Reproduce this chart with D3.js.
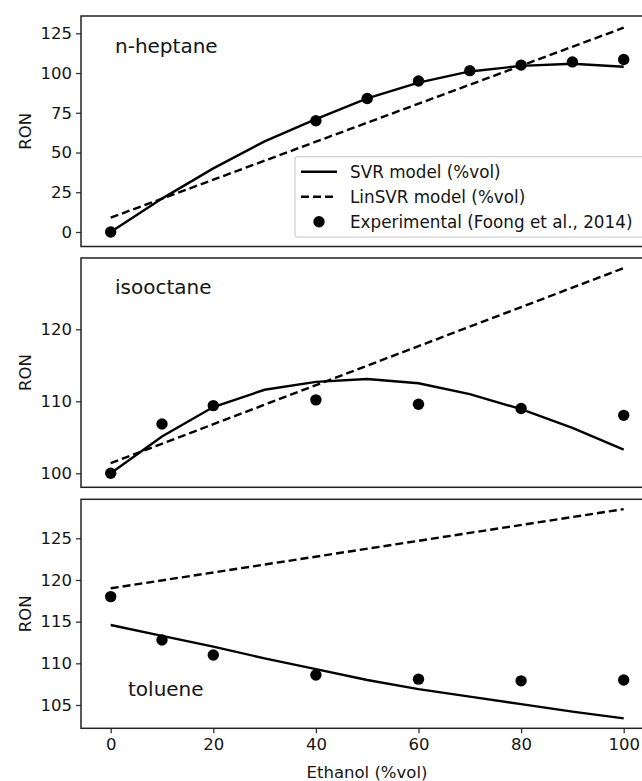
<!DOCTYPE html>
<html>
<head>
<meta charset="utf-8">
<script src="https://cdn.jsdelivr.net/npm/d3@7"></script>
<style>
  html, body { margin: 0; padding: 0; background: #fff; }
  svg { display: block; font-family: "DejaVu Sans", sans-serif; }
</style>
</head>
<body>
<svg id="chart" width="642" height="781"></svg>
<script>
// ---- data ----
const modelX = [0, 10, 20, 30, 40, 50, 60, 70, 80, 90, 100];
const linX = [0, 100];
const xTicks = [0, 20, 40, 60, 80, 100];

// n-heptane
const heptExpX = [0, 40, 50, 60, 70, 80, 90, 100];
const heptExp = [0, 70, 84, 95, 101.5, 105, 107, 108.5];
const heptSVR = [0, 21, 40, 57, 71, 84, 94, 101, 104.5, 105.8, 104];
const heptLin = [9, 128.5];
const heptTicks = [0, 25, 50, 75, 100, 125];

// isooctane
const isoExpX = [0, 10, 20, 40, 60, 80, 100];
const isoExp = [100, 106.85, 109.4, 110.2, 109.6, 109.0, 108.05];
const isoSVR = [100, 105.1, 109.2, 111.6, 112.7, 113.1, 112.5, 111.0, 108.9, 106.3, 103.3];
const isoLin = [101.4, 128.5];
const isoTicks = [100, 110, 120];

// toluene
const tolExpX = [0, 10, 20, 40, 60, 80, 100];
const tolExp = [118.0, 112.8, 111.0, 108.6, 108.1, 107.9, 108.0];
const tolSVR = [114.6, 113.3, 112.0, 110.6, 109.3, 108.0, 106.9, 106.0, 105.1, 104.2, 103.4];
const tolLin = [119.0, 128.5];
const tolTicks = [105, 110, 115, 120, 125];

const legendLabels = ["SVR model (%vol)", "LinSVR model (%vol)", "Experimental (Foong et al., 2014)"];
const xLabel = "Ethanol (%vol)";
const yLabel = "RON";

// ---- layout ----
const svg = d3.select("#chart");
const frameLeft = 81, frameRight = 660;
const x = d3.scaleLinear().domain([0, 100]).range([110.7, 623.7]);
const ink = "#141414";

const panels = [
  { name: "n-heptane", top: 16, bottom: 246.5, dom: [0, 125], rng: [232, 33.3], ticks: heptTicks,
    expX: heptExpX, exp: heptExp, svr: heptSVR, lin: heptLin, labelPos: [115, 53], legend: true },
  { name: "isooctane", top: 258, bottom: 487.3, dom: [100, 120], rng: [473.3, 329.3], ticks: isoTicks,
    expX: isoExpX, exp: isoExp, svr: isoSVR, lin: isoLin, labelPos: [115, 294] },
  { name: "toluene", top: 499.3, bottom: 728.3, dom: [105, 125], rng: [705, 538.3], ticks: tolTicks,
    expX: tolExpX, exp: tolExp, svr: tolSVR, lin: tolLin, labelPos: [128, 696], xaxis: true }
];

panels.forEach(p => {
  const y = d3.scaleLinear().domain(p.dom).range(p.rng);
  const g = svg.append("g");

  // y axis
  const yAxis = d3.axisLeft(y).tickValues(p.ticks).tickSize(5).tickPadding(4).tickFormat(d3.format("d"));
  const ya = g.append("g").attr("transform", `translate(${frameLeft},0)`).call(yAxis);
  ya.select(".domain").remove();
  ya.selectAll("line").attr("stroke", "#333").attr("stroke-width", 1.3);
  ya.selectAll("text").attr("font-size", 16.5).attr("fill", ink).attr("font-family", "DejaVu Sans");

  // x axis
  if (p.xaxis) {
    const xAxis = d3.axisBottom(x).tickValues(xTicks).tickSize(5).tickPadding(5).tickFormat(d3.format("d"));
    const xa = g.append("g").attr("transform", `translate(0,${p.bottom})`).call(xAxis);
    xa.select(".domain").remove();
    xa.selectAll("line").attr("stroke", "#333").attr("stroke-width", 1.3);
    xa.selectAll("text").attr("font-size", 16.5).attr("fill", ink).attr("font-family", "DejaVu Sans");
  }

  // y label
  g.append("text")
    .attr("transform", `translate(30.5,${(p.top + p.bottom) / 2}) rotate(-90)`)
    .attr("text-anchor", "middle")
    .attr("font-size", 16.5).attr("fill", ink)
    .text(yLabel);

  // lines
  const lineGen = d3.line().x(d => x(d[0])).y(d => y(d[1]));
  g.append("path")
    .datum(linX.map((v, i) => [v, p.lin[i]]))
    .attr("d", lineGen).attr("fill", "none").attr("stroke", "#000")
    .attr("stroke-width", 2.4).attr("stroke-dasharray", "8,4");
  g.append("path")
    .datum(modelX.map((v, i) => [v, p.svr[i]]))
    .attr("d", lineGen).attr("fill", "none").attr("stroke", "#000")
    .attr("stroke-width", 2.4);
  g.selectAll("circle.exp")
    .data(p.expX.map((v, i) => [v, p.exp[i]]))
    .join("circle").attr("class", "exp")
    .attr("cx", d => x(d[0])).attr("cy", d => y(d[1]))
    .attr("r", 5.7).attr("fill", "#000");

  // panel label
  g.append("text").attr("x", p.labelPos[0]).attr("y", p.labelPos[1])
    .attr("font-size", 20).attr("fill", ink).text(p.name);

  // legend
  if (p.legend) {
    const lg = g.append("g");
    lg.append("rect").attr("x", 295).attr("y", 156.7).attr("width", 380).attr("height", 80.5)
      .attr("rx", 3).attr("fill", "#fff").attr("fill-opacity", 0.85)
      .attr("stroke", "#d0d0d0").attr("stroke-width", 1.2);
    const rows = [171.7, 196.7, 221.7];
    lg.append("line").attr("x1", 301).attr("x2", 337).attr("y1", rows[0]).attr("y2", rows[0])
      .attr("stroke", "#000").attr("stroke-width", 2.4);
    lg.append("line").attr("x1", 301).attr("x2", 337).attr("y1", rows[1]).attr("y2", rows[1])
      .attr("stroke", "#000").attr("stroke-width", 2.4).attr("stroke-dasharray", "8,4");
    lg.append("circle").attr("cx", 319).attr("cy", rows[2]).attr("r", 5.7).attr("fill", "#000");
    legendLabels.forEach((t, i) => {
      lg.append("text").attr("x", 350).attr("y", rows[i]).attr("dy", "0.35em")
        .attr("font-size", 16.8).attr("fill", ink).text(t);
    });
  }

  // frame (right side beyond visible area)
  g.append("rect").attr("x", frameLeft).attr("y", p.top)
    .attr("width", frameRight - frameLeft).attr("height", p.bottom - p.top)
    .attr("fill", "none").attr("stroke", "#222").attr("stroke-width", 1.5);
});

// x label
svg.append("text").attr("x", 367).attr("y", 772).attr("dy", "0.35em")
  .attr("text-anchor", "middle").attr("font-size", 16.5).attr("fill", ink).text(xLabel);
</script>
</body>
</html>
